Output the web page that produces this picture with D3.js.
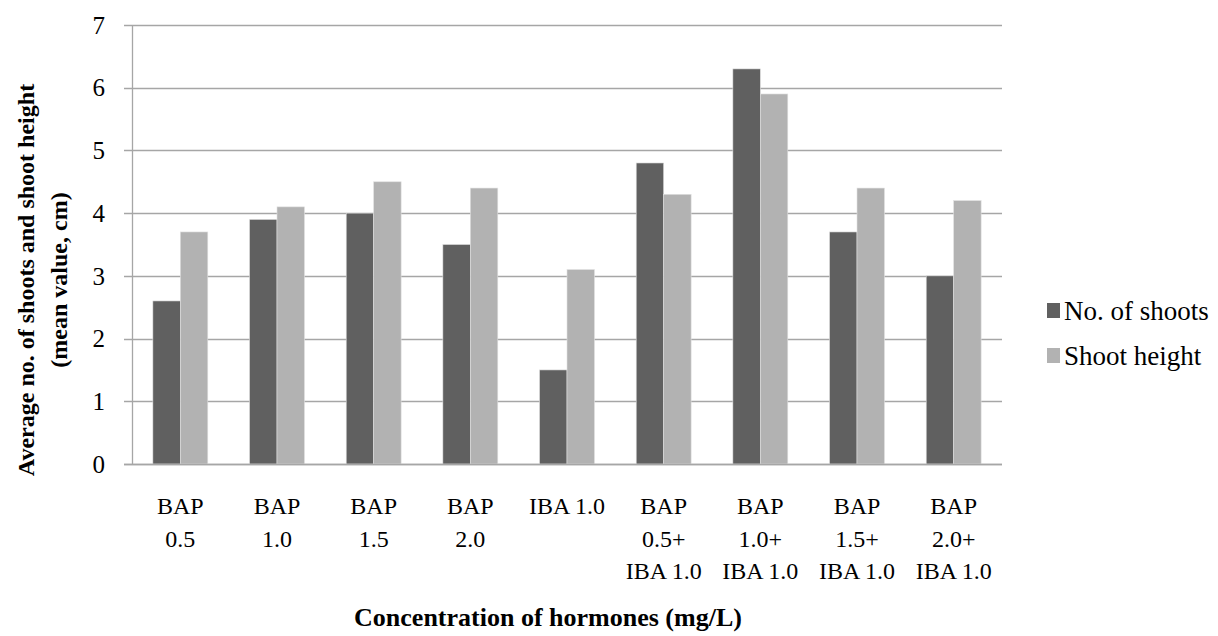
<!DOCTYPE html>
<html>
<head>
<meta charset="utf-8">
<script src="https://cdn.jsdelivr.net/npm/d3@7"></script>
<style>
    body { margin: 0; background: #fff; }
    #chart { width: 1218px; height: 636px; }
</style>
</head>
<body>
<div id="chart"></div>
<script>
var width = 1218
var height = 636
const margin = {top: 25, left: 132, right: 216, bottom: 172}
const serif = "'Liberation Serif', 'Times New Roman', 'DejaVu Serif', serif"

// data
var categories = [
    ["BAP", "0.5"],
    ["BAP", "1.0"],
    ["BAP", "1.5"],
    ["BAP", "2.0"],
    ["IBA 1.0"],
    ["BAP", "0.5+", "IBA 1.0"],
    ["BAP", "1.0+", "IBA 1.0"],
    ["BAP", "1.5+", "IBA 1.0"],
    ["BAP", "2.0+", "IBA 1.0"]
]
var seriesNames = ["No. of shoots", "Shoot height"]
var noOfShoots = [2.6, 3.9, 4.0, 3.5, 1.5, 4.8, 6.3, 3.7, 3.0]
var shootHeight = [3.7, 4.1, 4.5, 4.4, 3.1, 4.3, 5.9, 4.4, 4.2]
var yTicks = [0, 1, 2, 3, 4, 5, 6, 7]
var colors = ["#606060", "#b2b2b2"]

var svg, xScale, xInner, yScale

createChart()

function createChart()
{
    var innerW = width - margin.left - margin.right
    var innerH = height - margin.top - margin.bottom

    svg = d3.select("#chart")
        .append("svg")
        .attr("width", width)
        .attr("height", height)
        .attr("display", "block")
        .style("font-family", serif)

    xScale = d3.scaleBand()
        .domain(d3.range(categories.length))
        .range([margin.left, margin.left + innerW])
        .paddingInner(0)
        .paddingOuter(0)

    xInner = d3.scaleBand()
        .domain([0, 1])
        .range([0, xScale.bandwidth()])
        .paddingOuter(0.76)
        .paddingInner(0)

    yScale = d3.scaleLinear()
        .domain([0, 7])
        .range([margin.top + innerH, margin.top])

    // gridlines
    svg.append("g")
        .selectAll("line")
        .data(yTicks)
        .join("line")
        .attr("x1", margin.left - 8)
        .attr("x2", margin.left + innerW)
        .attr("y1", d => Math.round(yScale(d)) + 0.5)
        .attr("y2", d => Math.round(yScale(d)) + 0.5)
        .attr("stroke", "#a6a6a6")
        .attr("stroke-width", 1.3)

    // left axis line
    svg.append("line")
        .attr("x1", margin.left + 0.5)
        .attr("x2", margin.left + 0.5)
        .attr("y1", yScale(7))
        .attr("y2", yScale(0))
        .attr("stroke", "#a6a6a6")
        .attr("stroke-width", 1.3)

    // y tick labels
    svg.append("g")
        .selectAll("text")
        .data(yTicks)
        .join("text")
        .attr("x", margin.left - 27)
        .attr("y", d => yScale(d))
        .attr("dy", "0.35em")
        .attr("text-anchor", "end")
        .style("font-family", serif)
        .style("font-size", "25px")
        .text(d => d)

    // bars
    var series = [noOfShoots, shootHeight]
    var groups = svg.append("g")
        .selectAll("g")
        .data(categories.map((c, i) => i))
        .join("g")
        .attr("transform", i => "translate(" + xScale(i) + ",0)")

    groups.selectAll("rect")
        .data(i => series.map((s, k) => ({k: k, v: s[i]})))
        .join("rect")
        .attr("x", d => xInner(d.k))
        .attr("width", xInner.bandwidth())
        .attr("y", d => yScale(d.v))
        .attr("height", d => yScale(0) - yScale(d.v))
        .attr("fill", d => colors[d.k])
        .attr("stroke", "#e0e0e0")
        .attr("stroke-width", 0.6)

    // baseline on top
    svg.append("line")
        .attr("x1", margin.left - 8)
        .attr("x2", margin.left + innerW)
        .attr("y1", Math.round(yScale(0)) + 0.5)
        .attr("y2", Math.round(yScale(0)) + 0.5)
        .attr("stroke", "#a6a6a6")
        .attr("stroke-width", 1.3)

    // category labels
    var labels = svg.append("g")
        .selectAll("text")
        .data(categories)
        .join("text")
        .attr("text-anchor", "middle")
        .style("font-family", serif)
        .style("font-size", "24px")
        .attr("transform", (d, i) => "translate(" + (xScale(i) + xScale.bandwidth() / 2) + "," + 514 + ")")

    labels.selectAll("tspan")
        .data(d => d)
        .join("tspan")
        .attr("x", 0)
        .attr("y", (d, j) => j * 32.5)
        .text(d => d)

    // x axis title
    svg.append("text")
        .attr("x", 548)
        .attr("y", 626)
        .attr("text-anchor", "middle")
        .style("font-family", serif)
        .style("font-weight", "bold")
        .style("font-size", "26px")
        .text("Concentration of hormones (mg/L)")

    // y axis title
    var yt = svg.append("text")
        .attr("transform", "translate(" + 0 + "," + 280 + ")rotate(-90)")
        .attr("text-anchor", "middle")
        .style("font-family", serif)
        .style("font-weight", "bold")
        .style("font-size", "24px")
    yt.append("tspan").attr("x", 0).attr("y", 34).text("Average no. of shoots and shoot height")
    yt.append("tspan").attr("x", 0).attr("y", 67).text("(mean value, cm)")

    // legend
    var legend = svg.append("g")
        .selectAll("g")
        .data(seriesNames)
        .join("g")
        .attr("transform", (d, i) => "translate(1047," + (303 + i * 45) + ")")

    legend.append("rect")
        .attr("width", 13)
        .attr("height", 15)
        .attr("fill", (d, i) => colors[i])

    legend.append("text")
        .attr("x", 17)
        .attr("y", 8)
        .attr("dy", "0.35em")
        .style("font-family", serif)
        .style("font-size", "27px")
        .text(d => d)
}
</script>
</body>
</html>
